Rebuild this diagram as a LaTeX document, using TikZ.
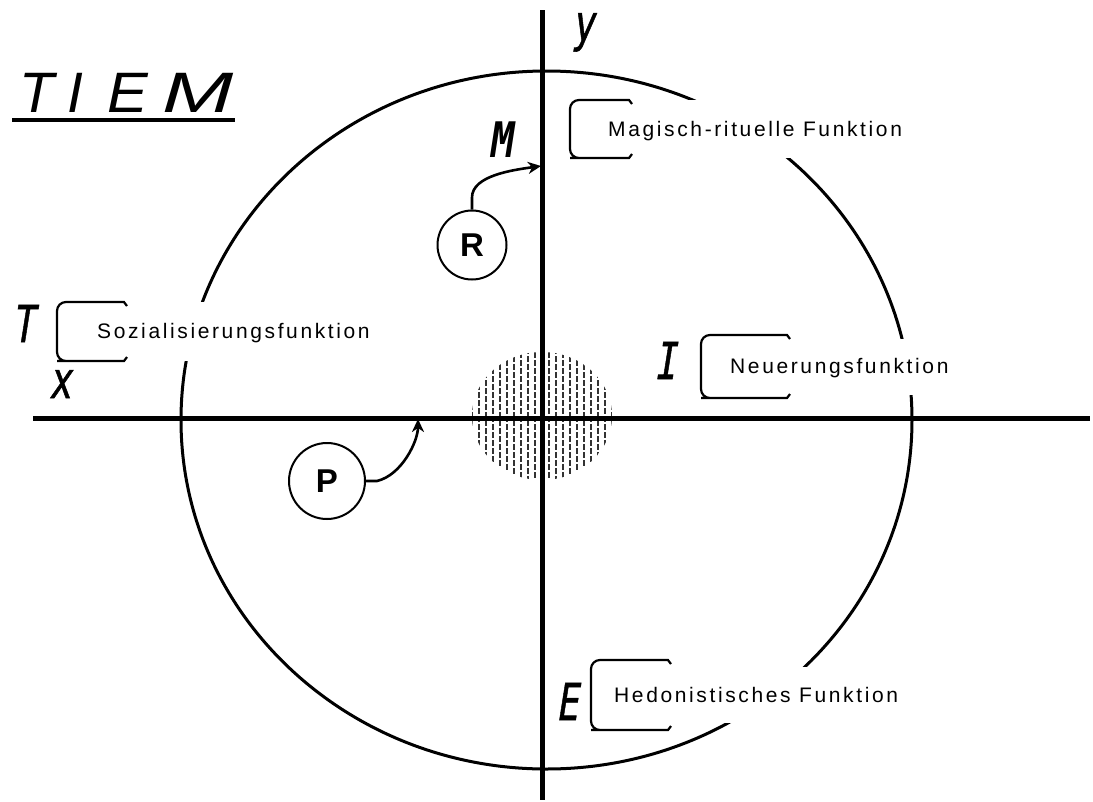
\documentclass[tikz,border=0pt]{standalone}
\usepackage{fontspec}
\setmainfont{Liberation Sans}
\newfontfamily\lblfont[LetterSpace=12.5]{Liberation Sans}
\newfontfamily\letfont[FakeBold=1.2,FakeSlant=0.22]{DejaVu Sans Mono}
\newfontfamily\bigfont{DejaVu Sans Mono}
\newfontfamily\titlefont{Liberation Sans}
\usetikzlibrary{calc,arrows.meta}
\newcommand\biglet[2][0.72]{\scalebox{#1}[1]{#2}}
\begin{document}
\begin{tikzpicture}[x=1pt,y=-1pt,
  axisline/.style={line width=5pt},
  ring/.style={line width=3pt},
  brk/.style={line width=2.2pt},
  lbl/.style={fill=white, inner xsep=0pt, inner ysep=0pt, anchor=west,
    text height=18pt, text depth=4pt,
    font=\lblfont\fontsize{21}{21}\selectfont},
  letterlbl/.style={anchor=base, inner sep=0pt,
    font=\letfont\fontsize{51}{51}\selectfont},
  circnode/.style={circle, draw, line width=2pt, minimum size=69pt, inner sep=0pt,
    font=\bfseries\fontsize{33}{33}\selectfont},
  arr/.style={line width=2.6pt, -{Stealth[length=13pt,width=12pt,inset=4pt]}},
  hatch/.style={line width=2.9pt, black!80, dash pattern=on 6pt off 2pt}
]
\useasboundingbox (0,0) rectangle (1093,801);
\fill[white] (0,0) rectangle (1093,801);

% hatched disk
\begin{scope}
  \clip (542,416) ellipse [x radius=70, y radius=64];
  \foreach \i in {-10,...,10}{
    \pgfmathsetmacro\ph{mod(\i+10,2)*4}
    \draw[hatch, dash phase=\ph pt] (542+7*\i,340) -- (542+7*\i,490);
  }
\end{scope}

% big ellipse
\draw[ring] (546.5,420) ellipse [x radius=365.5, y radius=349];

% axes
\coordinate (ytop) at (542,10);
\coordinate (ybot) at (542,800);
\coordinate (xl) at (33,418);
\coordinate (xr) at (1090,418);
\draw[axisline] (ytop) -- (ybot);
\draw[axisline] (xl) -- (xr);

% labels
\node[lbl, minimum height=58pt] (mag) at (570,129) {\hspace*{38pt}Magisch-rituelle Funktion\hspace*{4pt}};
\node[lbl, minimum height=59pt] (soz) at (57,331.5) {\hspace*{40pt}Sozialisierungsfunktion\hspace*{6pt}};
\node[lbl, minimum height=56pt] (neu) at (701,366.5) {\hspace*{29pt}Neuerungsfunktion\hspace*{6pt}};
\node[lbl, minimum height=56pt] (hed) at (591,695) {\hspace*{23pt}Hedonistisches Funktion\hspace*{2pt}};

\foreach \n/\w/\hh in {mag/62/58, soz/70/59, neu/89/63, hed/80/70}{
  \coordinate (\n-tl) at ($(\n.west)+(0,-\hh/2)$);
  \coordinate (\n-bl) at ($(\n.west)+(0,\hh/2)$);
  \draw[brk] ($(\n-tl)+(\w,4)$) -- ($(\n-tl)+(\w-3,0)$) -- ($(\n-tl)+(9,0)$)
    [rounded corners=9pt] -- (\n-tl) -- (\n-bl) -- ($(\n-bl)+(9,0)$)
    [sharp corners] -- ($(\n-bl)+(\w-3,0)$) -- ($(\n-bl)+(\w,-4)$);
}

% letters
\node[letterlbl] (lT) at (23,342) {\biglet{T}};
\node[letterlbl] (lx) at (60,398) {\biglet{x}};
\node[letterlbl] (lI) at (665,379) {\biglet{I}};
\node[letterlbl] (lE) at (567,720) {\biglet{E}};
\node[letterlbl] (ly) at (583,41) {\biglet{y}};
\node[letterlbl, font=\bigfont\bfseries\itshape\fontsize{49}{49}\selectfont] (lM) at (503,157) {\biglet[0.8]{M}};

% title
\node[anchor=base west, inner sep=0pt, font=\titlefont\itshape\fontsize{57}{57}\selectfont] (title) at (19,112)
  {T\hspace{14pt}I\hspace{24pt}\scalebox{1.07}[1]{E}\hspace{14pt}\scalebox{1.5}[1]{M}};
\coordinate (ul1) at (12,120);
\coordinate (ul2) at (235,120);
\draw[line width=3.2pt] (ul1) -- (ul2);

% circles and arrows
\node[circnode] (R) at (472,245) {R};
\node[circnode, minimum size=76pt] (P) at (327,481) {P};
\coordinate (mtip) at (541,166);
\coordinate (ptip) at (418,419);
\draw[arr] (R.north) -- ++(0,-12) .. controls +(0,-22) and +(-28,4) .. (mtip);
\draw[arr] (P.east) -- ++(11,0) .. controls +(25,-6) and +(0,22) .. (ptip);
\end{tikzpicture}
\end{document}
